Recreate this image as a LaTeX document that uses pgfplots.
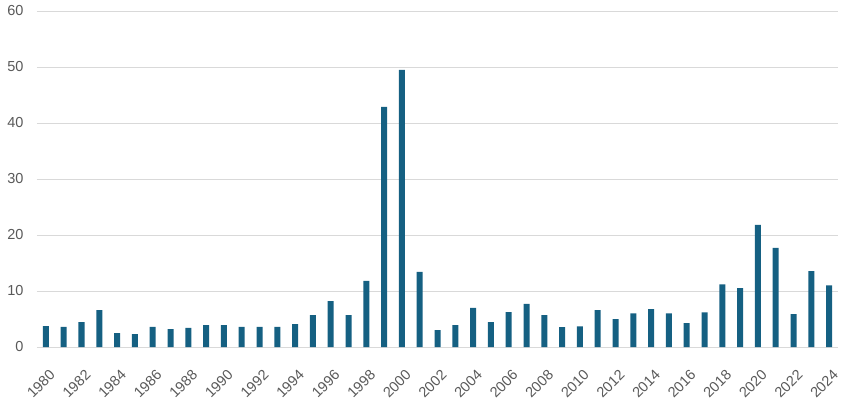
\documentclass[border=0pt]{standalone}
\usepackage{pgfplots}
\pgfplotsset{compat=1.18}
\usepackage{fontspec}
\setmainfont{Liberation Sans}
\definecolor{barc}{HTML}{156082}
\definecolor{txt}{HTML}{595959}
\definecolor{grd}{HTML}{D9D9D9}
\begin{document}
\begin{tikzpicture}
\begin{axis}[
  at={(0,0)}, anchor=south west,
  scale only axis, width=801pt, height=336pt,
  xmin=1979.5, xmax=2024.5, ymin=0, ymax=60,
  ytick={0,10,...,60},
  xtick={1980,1982,...,2024},
  axis line style={draw=none},
  major tick length=0pt,
  ymajorgrids, grid style={grd, line width=0.8pt},
  tick label style={font=\fontsize{14.5}{15}\selectfont, text=txt},
  /pgf/number format/assume math mode=true,
  /pgf/number format/1000 sep={},
  yticklabel style={xshift=-10pt},
  xticklabel style={rotate=45, anchor=north east, xshift=-10pt, yshift=-14pt},
  clip=false,
]
\addplot[ybar, bar width=6pt, fill=barc, draw=none] coordinates {
(1980,3.75) (1981,3.6) (1982,4.45) (1983,6.6) (1984,2.5) (1985,2.3)
(1986,3.6) (1987,3.2) (1988,3.4) (1989,3.9) (1990,3.9) (1991,3.6)
(1992,3.6) (1993,3.6) (1994,4.1) (1995,5.7) (1996,8.2) (1997,5.7)
(1998,11.8) (1999,42.9) (2000,49.5) (2001,13.4) (2002,3.0) (2003,3.9)
(2004,7.0) (2005,4.45) (2006,6.25) (2007,7.7) (2008,5.7) (2009,3.55)
(2010,3.7) (2011,6.6) (2012,5.0) (2013,6.0) (2014,6.75) (2015,6.0)
(2016,4.25) (2017,6.2) (2018,11.2) (2019,10.5) (2020,21.8) (2021,17.7)
(2022,5.85) (2023,13.55) (2024,11.0)
};
\end{axis}
\pgfresetboundingbox
\path (-37pt,-58pt) rectangle (811pt,347pt);
\end{tikzpicture}
\end{document}
